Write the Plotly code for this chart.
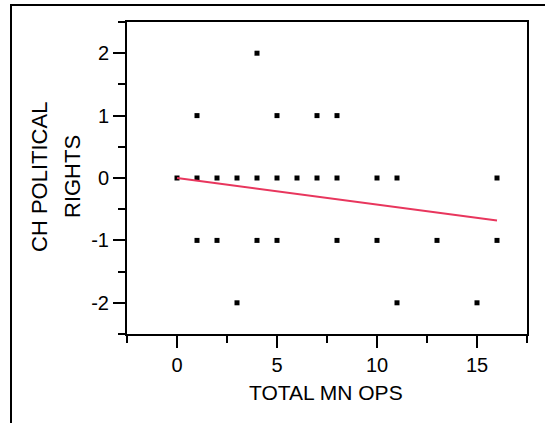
import plotly.graph_objects as go

# Data
total_mn_ops = [4,
                1, 5, 7, 8,
                0, 1, 2, 3, 4, 5, 6, 7, 8, 10, 11, 16,
                1, 2, 4, 5, 8, 10, 13, 16,
                3, 11, 15]
ch_political_rights = [2,
                       1, 1, 1, 1,
                       0, 0, 0, 0, 0, 0, 0, 0, 0, 0, 0, 0,
                       -1, -1, -1, -1, -1, -1, -1, -1,
                       -2, -2, -2]
fit_x = [0, 16]
fit_y = [0.0, -0.68]
x_tick_vals = [0, 5, 10, 15]
x_tick_text = ["0", "5", "10", "15"]
y_tick_vals = [-2, -1, 0, 1, 2]
y_tick_text = ["-2", "-1", "0", "1", "2"]
x_title = "TOTAL MN OPS"
y_title_lines = ["CH POLITICAL", "RIGHTS"]

FONT = "Liberation Sans, Arial, sans-serif"

fig = go.Figure()
fig.add_trace(go.Scatter(x=total_mn_ops, y=ch_political_rights, mode="markers",
                         marker=dict(symbol="square", size=5, color="black",
                                     line=dict(width=0)),
                         showlegend=False, hoverinfo="skip"))
fig.add_trace(go.Scatter(x=fit_x, y=fit_y, mode="lines",
                         line=dict(color="#E8365D", width=2),
                         showlegend=False, hoverinfo="skip"))

axis_common = dict(showgrid=False, zeroline=False, showline=True, automargin=False,
                   linecolor="black", linewidth=2, mirror=True,
                   ticks="outside", tickcolor="black", tickwidth=2, ticklen=12,
                   tickfont=dict(family=FONT, size=20, color="black"))

fig.update_xaxes(range=[-2.5, 17.5], tickmode="array", tickvals=x_tick_vals, ticktext=x_tick_text,
                 minor=dict(ticks="outside", ticklen=7, tickwidth=2, tickcolor="black",
                            tickmode="linear", tick0=0, dtick=2.5),
                 **axis_common)
fig.update_yaxes(range=[-2.5, 2.5], tickmode="array", tickvals=y_tick_vals, ticktext=y_tick_text,
                 minor=dict(ticks="outside", ticklen=7, tickwidth=2, tickcolor="black",
                            tickmode="linear", tick0=0, dtick=0.5),
                 **axis_common)

W, H = 545, 423
L, R, T, B = 127, 18, 22, 89
pw, ph = W - L - R, H - T - B
def px(x):
    return (x - L) / pw
def py(y):
    return (H - B - y) / ph

# x-axis title
fig.add_annotation(text=x_title, xref="paper", yref="paper",
                   x=px(326), y=py(392), xanchor="center", yanchor="middle",
                   showarrow=False, font=dict(family=FONT, size=21, color="black"))

# y-axis title as two rotated lines
for line_text, cx in zip(y_title_lines, [39, 72]):
    fig.add_annotation(text=line_text, xref="paper", yref="paper",
                       x=px(cx), y=py(177), xanchor="center", yanchor="middle",
                       textangle=-90, showarrow=False,
                       font=dict(family=FONT, size=22, color="black"))

# outer frame lines (top and left)
fig.add_shape(type="line", xref="paper", yref="paper",
              x0=px(10), x1=px(W + 5), y0=py(5), y1=py(5),
              line=dict(color="black", width=2))
fig.add_shape(type="line", xref="paper", yref="paper",
              x0=px(11), x1=px(11), y0=py(4), y1=py(H + 5),
              line=dict(color="black", width=2))

fig.update_layout(width=W, height=H, margin=dict(l=L, r=R, t=T, b=B),
                  plot_bgcolor="white", paper_bgcolor="white",
                  font=dict(family=FONT, color="black"))

fig.write_html("out.html", config={"displayModeBar": False},
               post_script="document.body.style.margin='0';document.body.style.overflow='hidden';")
